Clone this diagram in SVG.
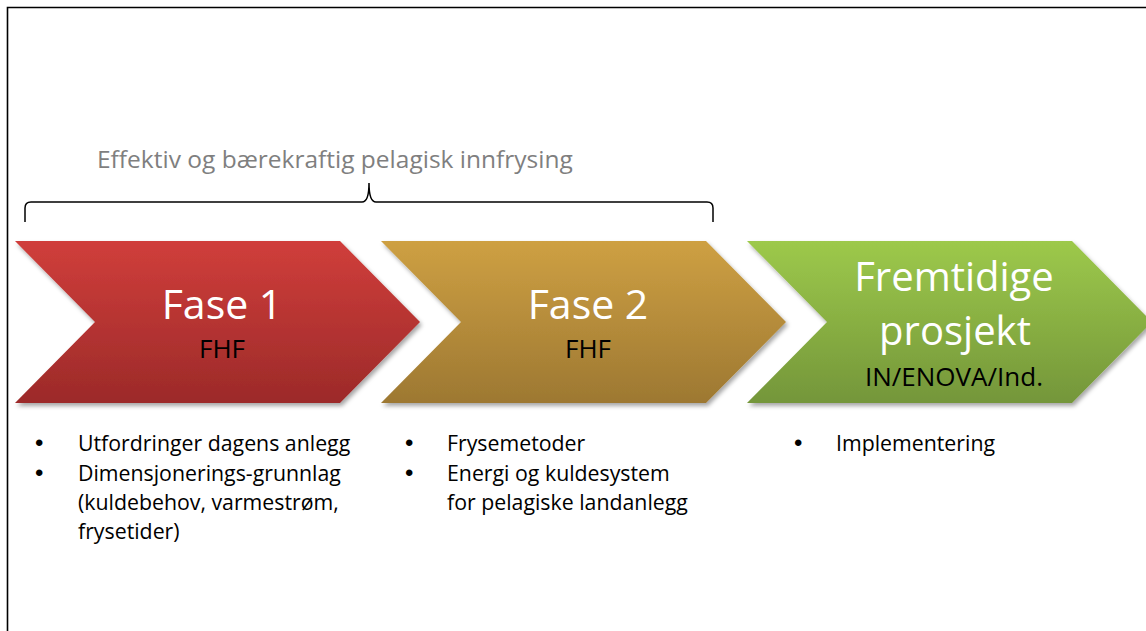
<svg xmlns="http://www.w3.org/2000/svg" width="1146" height="631" viewBox="0 0 1146 631">
<defs>
<linearGradient id="gRed" x1="0" y1="0" x2="0" y2="1"><stop offset="0" stop-color="#D03E3B"/><stop offset="1" stop-color="#9C2A29"/></linearGradient>
<linearGradient id="gGold" x1="0" y1="0" x2="0" y2="1"><stop offset="0" stop-color="#CEA043"/><stop offset="1" stop-color="#9D7832"/></linearGradient>
<linearGradient id="gGreen" x1="0" y1="0" x2="0" y2="1"><stop offset="0" stop-color="#9DC94B"/><stop offset="1" stop-color="#74963A"/></linearGradient>
<filter id="sh" x="-5%" y="-5%" width="115%" height="120%"><feDropShadow dx="2" dy="3" stdDeviation="2" flood-color="#000" flood-opacity="0.35"/></filter>
<style>
.big{font-family:"Open Sans","Liberation Sans",sans-serif;font-size:41px;fill:#fff;text-anchor:middle}
.big3{font-family:"Open Sans","Liberation Sans",sans-serif;font-size:40px;fill:#fff;text-anchor:middle}
.sub{font-family:"Open Sans","Liberation Sans",sans-serif;font-size:26px;fill:#000;text-anchor:middle}
.txt{font-family:"Open Sans","Liberation Sans",sans-serif;font-size:21.3px;fill:#000}
.bul{font-family:"Liberation Sans",sans-serif;font-size:24px;fill:#000}
.ttl{font-family:"Open Sans","Liberation Sans",sans-serif;font-size:24.5px;fill:#7F7F7F}
.frame{fill:none;stroke:#000;stroke-width:1.6}
</style>
</defs>
<rect width="1146" height="631" fill="#fff"/>
<path class="frame" d="M7.5,631 V7.5 H1146"/>
<text class="ttl" x="97" y="168">Effektiv og bærekraftig pelagisk innfrysing</text>
<g id="connectors">
<path d="M25,222 V208 Q25,202 31,202 H362 Q369,202 369,183 Q369,202 376,202 H707 Q713,202 713,208 V222" fill="none" stroke="#000" stroke-width="1.5"/>
</g>
<g id="fase1">
<polygon points="15,241 340,241 420,322 340,403 15,403 95,322" fill="url(#gRed)" filter="url(#sh)"/>
<text class="big" x="222" y="319">Fase 1</text>
<text class="sub" x="222" y="358">FHF</text>
</g>
<g id="fase2">
<polygon points="381,241 706,241 786,322 706,403 381,403 461,322" fill="url(#gGold)" filter="url(#sh)"/>
<text class="big" x="588" y="319">Fase 2</text>
<text class="sub" x="588" y="358">FHF</text>
</g>
<g id="fremtidige">
<polygon points="747,241 1072,241 1152,322 1072,403 747,403 827,322" fill="url(#gGreen)" filter="url(#sh)"/>
<text class="big3" x="954" y="291">Fremtidige</text>
<text class="big3" x="955" y="345">prosjekt</text>
<text class="sub" x="954" y="386">IN/ENOVA/Ind.</text>
</g>
<g id="list1">
<text class="bul" x="35" y="451">•</text>
<text class="txt" x="78" y="451">Utfordringer dagens anlegg</text>
<text class="bul" x="35" y="481">•</text>
<text class="txt" x="78" y="481">Dimensjonerings-grunnlag</text>
<text class="txt" x="78" y="510">(kuldebehov, varmestrøm,</text>
<text class="txt" x="78" y="539">frysetider)</text>
</g>
<g id="list2">
<text class="bul" x="405" y="451">•</text>
<text class="txt" x="447" y="451">Frysemetoder</text>
<text class="bul" x="405" y="481">•</text>
<text class="txt" x="447" y="481">Energi og kuldesystem</text>
<text class="txt" x="447" y="510">for pelagiske landanlegg</text>
</g>
<g id="list3">
<text class="bul" x="794" y="451">•</text>
<text class="txt" x="836" y="451">Implementering</text>
</g>
</svg>
